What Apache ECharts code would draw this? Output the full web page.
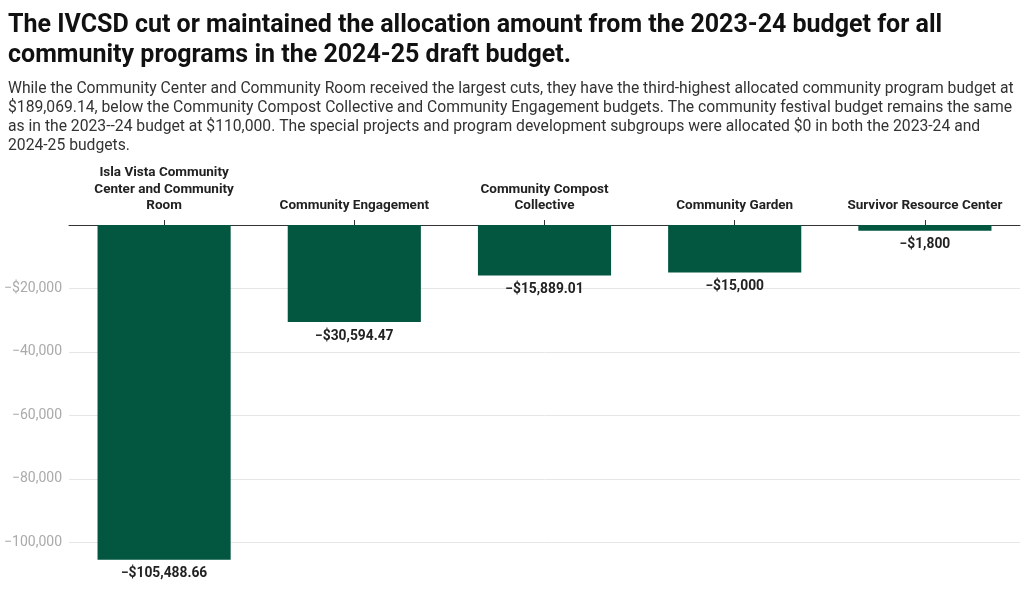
<!DOCTYPE html>
<html>
<head>
<meta charset="utf-8">
<script src="https://cdn.jsdelivr.net/npm/echarts@6/dist/echarts.min.js"></script>
<style>
html,body{margin:0;padding:0;background:#fff;}
#chart{width:1024px;height:599px;}
</style>
</head>
<body>
<div id="chart"></div>
<script>
const titleText = "The IVCSD cut or maintained the allocation amount from the 2023-24 budget for all\ncommunity programs in the 2024-25 draft budget.";
const subtitleText = "While the Community Center and Community Room received the largest cuts, they have the third-highest allocated community program budget at\n$189,069.14, below the Community Compost Collective and Community Engagement budgets. The community festival budget remains the same\nas in the 2023--24 budget at $110,000. The special projects and program development subgroups were allocated $0 in both the 2023-24 and\n2024-25 budgets.";
const categories = [
  "Isla Vista Community\nCenter and Community\nRoom",
  "Community Engagement",
  "Community Compost\nCollective",
  "Community Garden",
  "Survivor Resource Center"
];
const changes = [-105488.66, -30594.47, -15889.01, -15000, -1800];
const valueLabels = ["−$105,488.66", "−$30,594.47", "−$15,889.01", "−$15,000", "−$1,800"];
const yTickLabels = {"-20000": "−$20,000", "-40000": "−40,000", "-60000": "−60,000", "-80000": "−80,000", "-100000": "−100,000"};

const chart = echarts.init(document.getElementById('chart'), null, {renderer: 'canvas'});
chart.setOption({
  backgroundColor: '#fff',
  animation: false,
  title: [
    {text: titleText, left: 3, top: 5.5,
     textStyle: {fontFamily: 'Roboto', fontWeight: 'bold', fontSize: 25, lineHeight: 30, color: '#111'}},
    {text: subtitleText, left: 3, top: 74.5,
     textStyle: {fontFamily: 'Roboto', fontWeight: 'normal', fontSize: 15.7, lineHeight: 19, color: '#333'}}
  ],
  grid: {left: 69, right: 4, top: 225, bottom: 25, containLabel: false},
  xAxis: {
    type: 'category',
    position: 'top',
    data: categories,
    axisLine: {show: true, lineStyle: {color: '#333', width: 1}},
    axisTick: {show: true, alignWithLabel: true, length: 5, lineStyle: {color: '#333'}},
    axisLabel: {fontFamily: 'Roboto', fontWeight: 'bold', fontSize: 13.5, lineHeight: 16.5, color: '#222', margin: 11, interval: 0},
    splitLine: {show: false}
  },
  yAxis: {
    type: 'value',
    min: -110000,
    max: 0,
    splitNumber: 5,
    axisLine: {show: false},
    axisTick: {show: false},
    axisLabel: {
      fontFamily: 'Roboto', fontSize: 14, color: '#aaa', margin: 7,
      showMinLabel: false,
      formatter: v => yTickLabels[String(v)] || ''
    },
    splitLine: {show: true, showMinLine: false, lineStyle: {color: '#e6e6e6', width: 1}}
  },
  series: [{
    type: 'bar',
    data: changes,
    barWidth: '70%',
    itemStyle: {color: '#03563f'},
    label: {
      show: true, position: 'bottom', distance: 7,
      fontFamily: 'Roboto', fontWeight: 'bold', fontSize: 13.8, color: '#222',
      formatter: p => valueLabels[p.dataIndex]
    }
  }]
});
</script>
</body>
</html>
